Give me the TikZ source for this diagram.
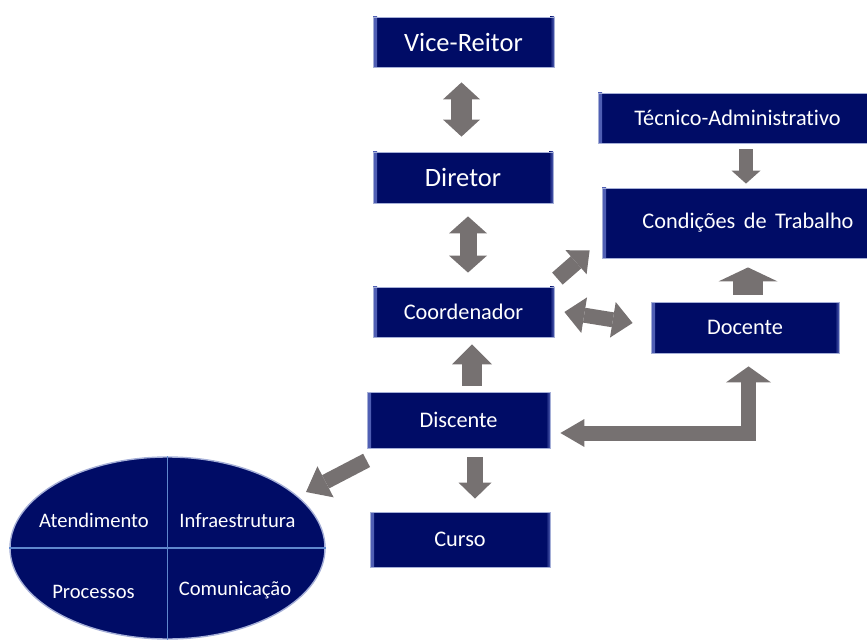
\documentclass[tikz,border=0pt]{standalone}
\usepackage{fontspec}
\setmainfont{Carlito}[Ligatures=NoCommon]
\usetikzlibrary{arrows.meta,shapes.geometric}

\definecolor{navy}{RGB}{0,12,102}
\definecolor{bevel}{RGB}{80,95,180}
\definecolor{rim}{RGB}{165,175,215}
\definecolor{arrowgray}{RGB}{118,113,113}
\definecolor{divider}{RGB}{95,135,205}

\tikzset{
  box/.style={draw=rim, line width=0.8pt, fill=navy, text=white, inner sep=0pt,
    font=\fontsize{22.3}{26}\selectfont,
    path picture={
      \shade[left color=bevel, right color=navy]
        (path picture bounding box.south west) rectangle ([xshift=4pt]path picture bounding box.north west);
      \shade[left color=navy, right color=bevel]
        ([xshift=-4pt]path picture bounding box.south east) rectangle (path picture bounding box.north east);
    }},
  bigtext/.style={font=\fontsize{26.5}{30}\selectfont},
  oval/.style={ellipse, draw=rim, line width=1.4pt, fill=navy, inner sep=0pt},
  ovaltext/.style={text=white, font=\fontsize{20.6}{24}\selectfont, inner sep=0pt},
  blk/.style={draw=arrowgray, line width=#1, line cap=butt, line join=miter},
}
\newcommand{\tri}[2]{Triangle[width=#1pt,length=#2pt,line width=0pt]}

\begin{document}
\begin{tikzpicture}[x=1pt,y=-1pt]
  \useasboundingbox (0,0) rectangle (867,644);
  \clip (0,0) rectangle (867,644);

  % hierarchy boxes
  \node[box, bigtext, minimum width=181pt, minimum height=50pt] (vr)    at (463.5,42)  {Vice-Reitor};
  \node[box, bigtext, minimum width=180pt, minimum height=51pt] (dir)   at (463,177.5) {Diretor};
  \node[box, minimum width=181pt, minimum height=50pt]          (coord) at (463.5,312) {Coordenador};
  \node[box, minimum width=183pt, minimum height=56pt]          (disc)  at (458.5,420) {Discente};
  \node[box, minimum width=180pt, minimum height=55pt]          (curso) at (460,539.5) {Curso};
  \node[box, minimum width=188pt, minimum height=51pt]          (doc)   at (745,327.5) {Docente};
  \node[box, minimum width=279pt, minimum height=50pt]          (tec)   at (737.5,118) {Técnico-Administrativo};
  \node[box, minimum width=292pt, minimum height=70pt]          (cond)  at (748,223)   {Condições\hspace{0.15em} de\hspace{0.15em} Trabalho};

  % quadrant oval
  \node[oval, minimum width=315pt, minimum height=182pt] (ell) at (167.5,548) {};
  \draw[divider, line width=1.2pt] (ell.north) -- (ell.south);
  \draw[divider, line width=1.2pt] (ell.west) -- (ell.east);
  \node[ovaltext] (atend) at (94,520)    {Atendimento};
  \node[ovaltext] (infra) at (237.5,521) {Infraestrutura};
  \node[ovaltext] (proc)  at (93.5,592)  {Processos};
  \node[ovaltext] (comun) at (235,590)   {Comunicação};

  % block arrows
  \draw[blk=21pt, {\tri{37}{17}}-{\tri{37}{17}}]
    ([shift={(-2,15)}]vr.south) -- ([shift={(-1.5,-15)}]dir.north);
  \draw[blk=17pt, {\tri{38}{17}}-{\tri{38}{17}}]
    ([shift={(5,13)}]dir.south) -- ([shift={(4.5,-14)}]coord.north);
  \draw[blk=16pt, -{\tri{32}{18}}]
    ([shift={(3,-8)}]coord.north east) -- ([shift={(-12,-8)}]cond.south west);
  \draw[blk=15pt, {\tri{36}{20}}-{\tri{36}{20}}]
    ([shift={(10,0)}]coord.east) -- ([shift={(-18,-4.5)}]doc.west);
  \draw[blk=14pt, -{\tri{29}{13}}]
    ([shift={(8.5,6)}]tec.south) -- ([shift={(-2,-4)}]cond.north);
  \draw[blk=30pt, -{\tri{59}{14}}]
    ([shift={(3,-7)}]doc.north) -- ([shift={(0,9)}]cond.south);
  \draw[blk=20pt, -{\tri{40}{20}}]
    ([shift={(13.5,-6)}]disc.north) -- ([shift={(8.5,7)}]coord.south);
  \draw[blk=16pt, -{\tri{33}{16}}]
    ([shift={(16.5,9)}]disc.south) -- ([shift={(15,-13)}]curso.north);
  \draw[blk=15pt, -{\tri{35}{22}}]
    ([shift={(0,12)}]disc.south west) -- ([shift={(138.5,-56)}]ell.center);
  \draw[blk=15pt, {\tri{28}{24}}-{\tri{45}{16}}]
    ([shift={(10,13)}]disc.east) -| ([shift={(3.5,13)}]doc.south);
\end{tikzpicture}
\end{document}
